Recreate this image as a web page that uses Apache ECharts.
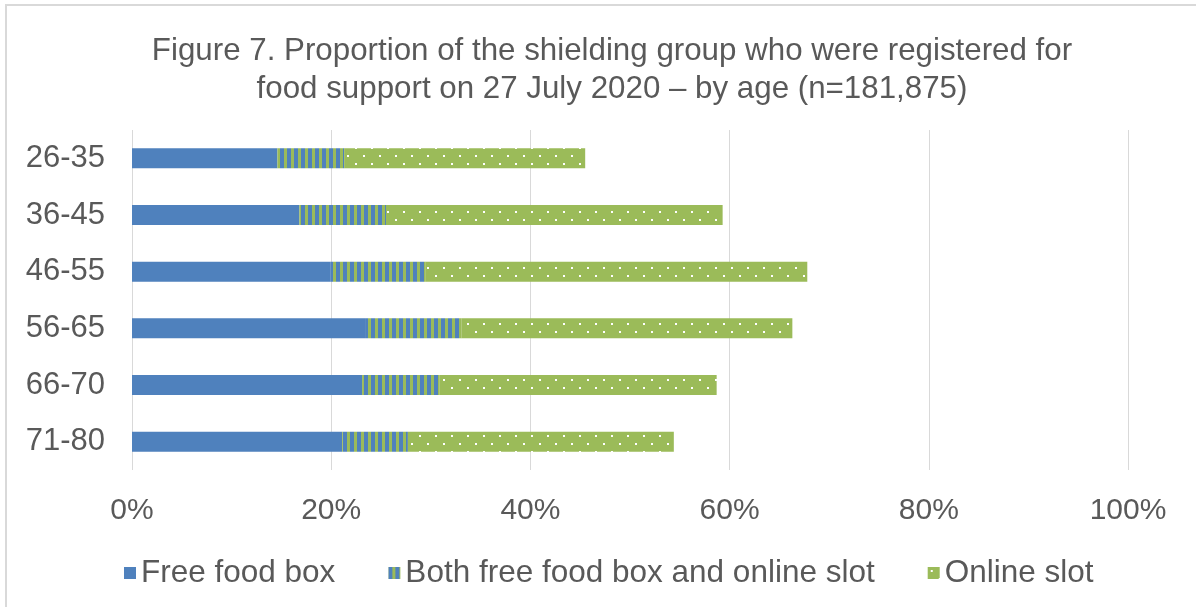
<!DOCTYPE html>
<html>
<head>
<meta charset="utf-8">
<script src="https://cdn.jsdelivr.net/npm/echarts@6/dist/echarts.min.js"></script>
<style>
html,body{margin:0;padding:0;background:#fff;}
#c{width:1196px;height:607px;}
</style>
</head>
<body>
<div id="c"></div>
<script>
const categories = ['26-35','36-45','46-55','56-65','66-70','71-80'];
const freeFoodBox = [14.6, 16.8, 19.9, 23.4, 23.1, 21.1];
const bothBoxAndSlot = [6.7, 8.7, 9.6, 9.7, 7.8, 6.6];
const onlineSlot = [24.2, 33.8, 38.3, 33.2, 27.8, 26.7];
const xTicks = [0, 20, 40, 60, 80, 100];
const seriesNames = ['Free food box','Both free food box and online slot','Online slot'];

const BLUE = '#4F81BD', GREEN = '#9BBB59', TXT = '#595959';
const FONT = '"Liberation Sans", Arial, sans-serif';

function stripeCanvas(){
  const c = document.createElement('canvas'); c.width = 7; c.height = 8;
  const g = c.getContext('2d');
  g.fillStyle = GREEN; g.fillRect(0,0,7,8);
  g.fillStyle = BLUE; g.fillRect(0,0,4,8);
  return c;
}
function dotCanvas(){
  const c = document.createElement('canvas'); c.width = 16; c.height = 16;
  const g = c.getContext('2d');
  g.fillStyle = GREEN; g.fillRect(0,0,16,16);
  g.fillStyle = '#ffffff';
  g.fillRect(3,3,2,2); g.fillRect(11,11,2,2);
  return c;
}
const stripePat = {image: stripeCanvas(), repeat: 'repeat'};
const dotPat = {image: dotCanvas(), repeat: 'repeat'};

const chart = echarts.init(document.getElementById('c'), null, {renderer:'canvas'});
chart.setOption({
  animation: false,
  backgroundColor: '#fff',
  graphic: [{type:'rect', shape:{x:6,y:5,width:1200,height:620}, style:{fill:'none', stroke:'#d9d9d9', lineWidth:2}, silent:true}],
  title: {
    text: 'Figure 7. Proportion of the shielding group who were registered for\nfood support on 27 July 2020 – by age (n=181,875)',
    left: 607, top: 27, textAlign: 'center',
    textStyle: {fontFamily: FONT, fontSize: 31.3, fontWeight: 'normal', color: TXT, lineHeight: 38}
  },
  grid: {left: 132, right: 68, top: 130, bottom: 137, containLabel: false},
  xAxis: {
    type: 'value', min: 0, max: 100, interval: 20,
    axisLine: {show:false}, axisTick: {show:false},
    splitLine: {lineStyle: {color: '#d9d9d9', width: 1}},
    axisLabel: {formatter: v => xTicks.includes(v) ? v + '%' : '', margin: 26, fontFamily: FONT, fontSize: 30, color: TXT}
  },
  yAxis: {
    type: 'category', data: categories, inverse: true,
    axisLine: {show:false}, axisTick: {show:false},
    axisLabel: {margin: 27, fontFamily: FONT, fontSize: 31, color: TXT}
  },
  legend: {
    top: 552, left: 119, itemWidth: 12, itemHeight: 12, itemGap: 53, itemTextGap: 9, icon: 'rect',
    textStyle: {fontFamily: FONT, fontSize: 31.5, color: TXT},
    data: seriesNames
  },
  series: [
    {name: seriesNames[0], type: 'bar', stack: 's', barWidth: 20, data: freeFoodBox, itemStyle: {color: BLUE}},
    {name: seriesNames[1], type: 'bar', stack: 's', barWidth: 20, data: bothBoxAndSlot, itemStyle: {color: stripePat}},
    {name: seriesNames[2], type: 'bar', stack: 's', barWidth: 20, data: onlineSlot, itemStyle: {color: dotPat}}
  ]
});
</script>
</body>
</html>
